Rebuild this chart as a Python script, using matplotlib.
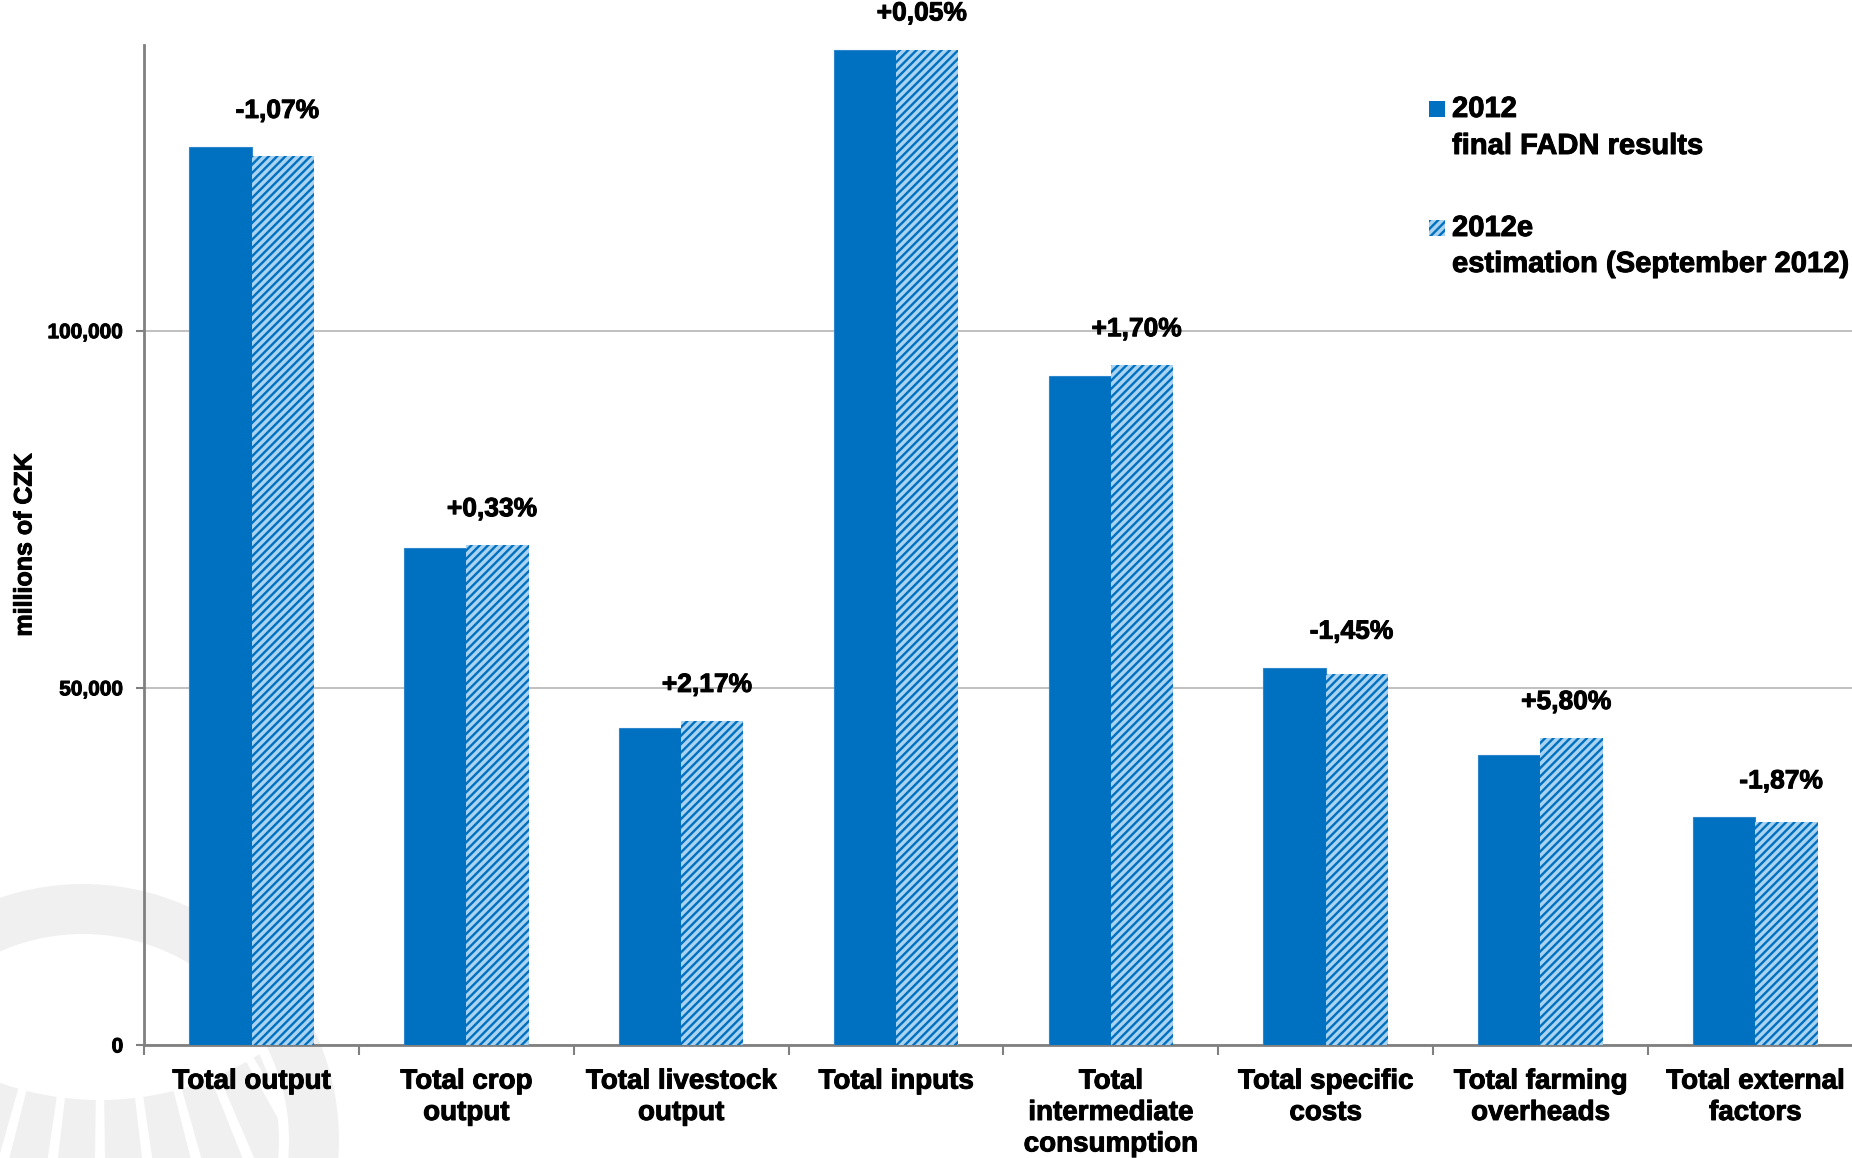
import numpy as np
import matplotlib.pyplot as plt
import matplotlib.patheffects as pe
from matplotlib.patches import Rectangle, Wedge, Circle

categories = ['Total output', 'Total crop\noutput', 'Total livestock\noutput', 'Total inputs',
              'Total\nintermediate\nconsumption', 'Total specific\ncosts', 'Total farming\noverheads',
              'Total external\nfactors']
final_2012 = [125700, 69600, 44400, 139300, 93600, 52800, 40600, 31850]
estimate_2012e = [124400, 69950, 45350, 139350, 95150, 52000, 42950, 31200]
pct_labels = ['-1,07%', '+0,33%', '+2,17%', '+0,05%', '+1,70%', '-1,45%', '+5,80%', '-1,87%']
y_ticks = [0, 50000, 100000]

BLUE = '#0070C0'
LIGHT = '#A9D3F0'
GREY_WM = '#F0F0F0'

plt.rcParams['font.family'] = ['Liberation Sans', 'DejaVu Sans']
plt.rcParams['font.weight'] = 'bold'
plt.rcParams['hatch.linewidth'] = 1.7

# slightly heavier strokes so the bold text looks like the original
heavy = [pe.withStroke(linewidth=0.7, foreground='black')]

fig = plt.figure(figsize=(18.52, 11.58), dpi=100, facecolor='white')

# faint logo watermark in the bottom left corner (pixel coordinates)
bg = fig.add_axes([0, 0, 1, 1], zorder=-1)
bg.set_xlim(0, 1852)
bg.set_ylim(1158, 0)
bg.axis('off')
bg.add_patch(Wedge((83, 1140), 256, 0, 360, width=50, facecolor=GREY_WM, edgecolor='none'))
clip = Circle((83, 1140), 196, transform=bg.transData)
for a in np.arange(45, 135, 7.5):
    w = Wedge((100, 800), 700, a + 0.8, a + 6.7, width=400, facecolor=GREY_WM, edgecolor='none')
    bg.add_patch(w)
    w.set_clip_path(clip)

ax = fig.add_axes([0.0778, 0.0976, 0.928, 0.8636])
ax.patch.set_alpha(0)

x = np.arange(len(categories))
bw = 0.29
ax.bar(x - bw / 2, final_2012, bw, color=BLUE, edgecolor='#2F86CC', linewidth=0.8, zorder=3)
ax.bar(x + bw / 2, estimate_2012e, bw, facecolor=LIGHT, edgecolor=BLUE, hatch='////', linewidth=0, zorder=3)

for i, lab in enumerate(pct_labels):
    top = max(final_2012[i], estimate_2012e[i])
    ax.annotate(lab, (x[i] + 0.12, top), xytext=(0, 26), textcoords='offset points',
                ha='center', va='center', fontsize=19, fontweight='bold', path_effects=heavy)

ax.set_xlim(-0.5, len(categories) - 0.5)
ax.set_ylim(0, 140000)
ax.set_yticks(y_ticks)
ax.set_yticklabels([f'{v:,}' for v in y_ticks], fontsize=15, fontweight='bold')
ax.set_xticks(x)
ax.set_xticklabels(categories, fontsize=20, fontweight='bold', linespacing=1.27)
ax.set_xticks(np.arange(len(categories) + 1) - 0.5, minor=True)
ax.tick_params(axis='x', which='major', length=0, pad=17)
ax.tick_params(axis='x', which='minor', length=7, width=1.5, color='#808080')
ax.tick_params(axis='y', length=6, width=1.5, color='#808080', pad=9)
for t in ax.get_xticklabels() + ax.get_yticklabels():
    t.set_path_effects(heavy)

ax.grid(axis='y', color='#C0C0C0', linewidth=1.4, zorder=0)
for s in ['top', 'right']:
    ax.spines[s].set_visible(False)
for s in ['left', 'bottom']:
    ax.spines[s].set_color('#808080')
    ax.spines[s].set_linewidth(2)

ax.set_ylabel('millions of CZK', fontsize=18, fontweight='bold', labelpad=8, path_effects=heavy)

# legend drawn by hand, marker next to the first line of each entry
fig.add_artist(Rectangle((1429 / 1852, 1 - 117 / 1158), 16 / 1852, 16 / 1158,
                         transform=fig.transFigure, facecolor=BLUE, edgecolor='none'))
fig.add_artist(Rectangle((1429 / 1852, 1 - 236 / 1158), 16 / 1852, 16 / 1158,
                         transform=fig.transFigure, facecolor=LIGHT, edgecolor=BLUE,
                         hatch='////', linewidth=0))
legend_lines = [('2012', 109), ('final FADN results', 146),
                ('2012e', 228), ('estimation (September 2012)', 264)]
for txt, ypx in legend_lines:
    fig.text(1452 / 1852, 1 - ypx / 1158, txt, fontsize=21, fontweight='bold', va='center',
             path_effects=heavy)

fig.savefig('out.png', dpi=100, facecolor='white')
